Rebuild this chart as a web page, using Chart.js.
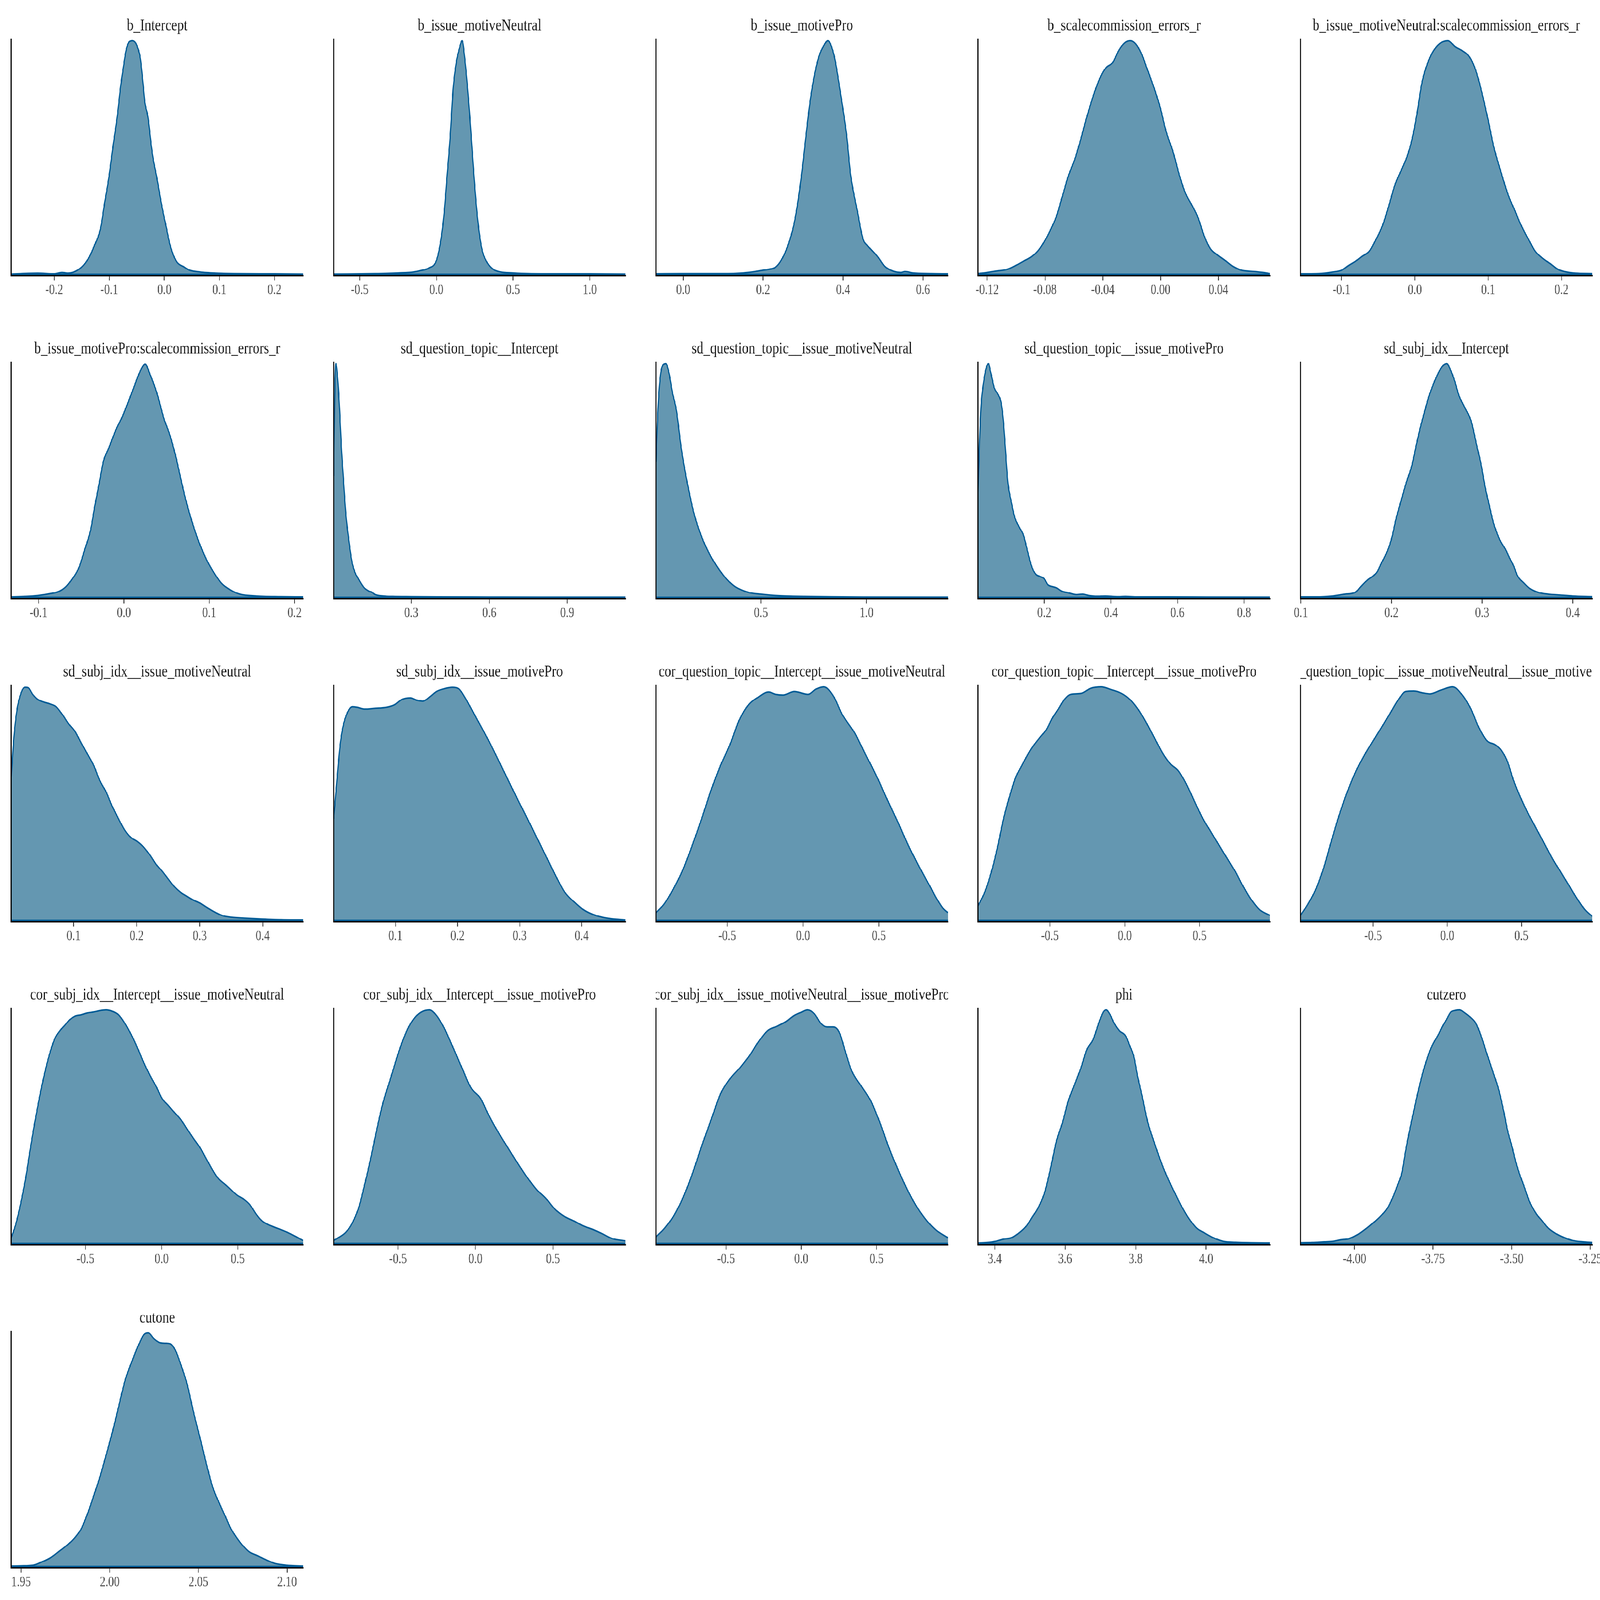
<!DOCTYPE html>
<html><head><meta charset="utf-8">
<script src="https://cdn.jsdelivr.net/npm/chart.js@4.4.1/dist/chart.umd.min.js"></script>
<style>
html,body{margin:0;padding:0;background:#fff;overflow:hidden;}
#wrap{position:absolute;left:0;top:0;width:5400px;height:4200px;background:#fff;overflow:hidden;transform-origin:0 0;}
#wrap canvas{position:absolute;}
</style></head><body><div id="wrap"></div>
<script>
// ---------- DATA ----------
const titles = ["b_Intercept","b_issue_motiveNeutral","b_issue_motivePro","b_scalecommission_errors_r","b_issue_motiveNeutral:scalecommission_errors_r",
"b_issue_motivePro:scalecommission_errors_r","sd_question_topic__Intercept","sd_question_topic__issue_motiveNeutral","sd_question_topic__issue_motivePro","sd_subj_idx__Intercept",
"sd_subj_idx__issue_motiveNeutral","sd_subj_idx__issue_motivePro","cor_question_topic__Intercept__issue_motiveNeutral","cor_question_topic__Intercept__issue_motivePro","cor_question_topic__issue_motiveNeutral__issue_motivePro",
"cor_subj_idx__Intercept__issue_motiveNeutral","cor_subj_idx__Intercept__issue_motivePro","cor_subj_idx__issue_motiveNeutral__issue_motivePro","phi","cutzero","cutone"];

const xMin = [-0.278,-0.67,-0.068,-0.1263,-0.156,-0.132,0.001,0.003,0.001,0.0995,0.001,0.0003,-0.97,-0.98,-0.99,-0.988,-0.915,-0.965,3.353,-4.172,1.9445];
const xMax = [0.252,1.233,0.662,0.0757,0.242,0.210,1.124,1.385,0.878,0.4216,0.464,0.4705,0.955,0.97,0.978,0.93,0.968,0.973,4.181,-3.2435,2.109];

const tickVals = [[-0.2,-0.1,0,0.1,0.2],[-0.5,0,0.5,1.0],[0,0.2,0.4,0.6],[-0.12,-0.08,-0.04,0,0.04],[-0.1,0,0.1,0.2],
[-0.1,0,0.1,0.2],[0.3,0.6,0.9],[0.5,1.0],[0.2,0.4,0.6,0.8],[0.1,0.2,0.3,0.4],
[0.1,0.2,0.3,0.4],[0.1,0.2,0.3,0.4],[-0.5,0,0.5],[-0.5,0,0.5],[-0.5,0,0.5],
[-0.5,0,0.5],[-0.5,0,0.5],[-0.5,0,0.5],[3.4,3.6,3.8,4.0],[-4.0,-3.75,-3.5,-3.25],[1.95,2.0,2.05,2.10]];
const tickDec = [1,1,1,2,1, 1,1,1,1,1, 1,1,1,1,1, 1,1,1,1,2,2];

const x01 = [-0.278,-0.23,-0.2,-0.186,-0.175,-0.155,-0.14,-0.128,-0.1156,-0.1086,-0.100,-0.093,-0.0855,-0.0796,-0.072,-0.0694,-0.064,-0.058,-0.052,-0.049,-0.0436,-0.038,-0.0355,-0.030,-0.0237,-0.0199,-0.0146,-0.0054,0.0037,0.010,0.016,0.023,0.035,0.046,0.065,0.095,0.126,0.2,0.252];
const y01 = [0.001,0.005,0.002,0.008,0.005,0.022,0.06,0.118,0.20,0.304,0.427,0.552,0.677,0.80,0.925,0.96,0.995,1.0,0.99,0.975,0.925,0.80,0.739,0.677,0.552,0.49,0.427,0.304,0.20,0.13,0.085,0.052,0.033,0.018,0.01,0.005,0.003,0.002,0.001];

const x02 = [-0.67,-0.4,-0.25,-0.15,-0.1,-0.05,0.0,0.03,0.05,0.07,0.09,0.11,0.13,0.15,0.168,0.185,0.2,0.22,0.24,0.26,0.28,0.30,0.33,0.37,0.42,0.5,0.6,0.8,1.0,1.233];
const y02 = [0.001,0.003,0.006,0.01,0.017,0.027,0.06,0.15,0.26,0.426,0.59,0.80,0.908,0.967,1.0,0.925,0.825,0.659,0.467,0.30,0.176,0.10,0.052,0.022,0.01,0.006,0.003,0.002,0.002,0.001];

const x03 = [-0.068,0.0,0.1,0.15,0.18,0.2,0.215,0.23,0.245,0.26,0.275,0.286,0.296,0.307,0.319,0.338,0.352,0.362,0.372,0.379,0.395,0.409,0.419,0.437,0.45,0.46,0.468,0.486,0.504,0.525,0.545,0.555,0.575,0.62,0.662];
const y03 = [0.002,0.003,0.003,0.006,0.012,0.018,0.022,0.03,0.06,0.115,0.20,0.30,0.426,0.592,0.76,0.925,0.98,1.0,0.97,0.925,0.76,0.592,0.426,0.26,0.15,0.125,0.11,0.077,0.035,0.014,0.008,0.012,0.006,0.003,0.002];

const x04 = [-0.1263,-0.12,-0.114,-0.106,-0.1,-0.095,-0.089,-0.085,-0.081,-0.076,-0.072,-0.068,-0.064,-0.059,-0.055,-0.051,-0.046,-0.042,-0.038,-0.033,-0.029,-0.025,-0.021,-0.017,-0.013,-0.009,-0.004,0.0,0.004,0.0086,0.013,0.017,0.022,0.026,0.030,0.0345,0.039,0.0446,0.050,0.056,0.065,0.072,0.0757];
const y04 = [0.003,0.008,0.014,0.022,0.039,0.056,0.077,0.10,0.135,0.193,0.25,0.334,0.418,0.50,0.584,0.675,0.775,0.84,0.883,0.908,0.958,0.99,1.0,0.985,0.942,0.875,0.79,0.709,0.609,0.526,0.426,0.351,0.293,0.243,0.168,0.11,0.085,0.06,0.035,0.018,0.012,0.007,0.003];

const x05 = [-0.156,-0.131,-0.112,-0.1,-0.09,-0.081,-0.072,-0.062,-0.053,-0.044,-0.034,-0.028,-0.019,-0.01,-0.003,0.003,0.009,0.015,0.024,0.034,0.045,0.055,0.065,0.074,0.083,0.091,0.099,0.108,0.117,0.127,0.136,0.145,0.155,0.164,0.173,0.186,0.195,0.204,0.219,0.242];
const y05 = [0.002,0.003,0.01,0.018,0.039,0.056,0.077,0.10,0.15,0.21,0.31,0.376,0.443,0.51,0.59,0.69,0.81,0.883,0.95,0.988,1.0,0.975,0.957,0.933,0.875,0.784,0.675,0.542,0.443,0.343,0.276,0.21,0.15,0.10,0.072,0.043,0.022,0.012,0.005,0.003];

const x06 = [-0.132,-0.116,-0.101,-0.087,-0.076,-0.068,-0.061,-0.053,-0.046,-0.039,-0.034,-0.029,-0.024,-0.017,-0.0095,-0.002,0.005,0.0124,0.0197,0.025,0.0307,0.038,0.047,0.054,0.06,0.066,0.072,0.080,0.089,0.0976,0.105,0.114,0.124,0.136,0.155,0.184,0.21];
const y06 = [0.002,0.004,0.008,0.016,0.026,0.046,0.077,0.125,0.204,0.29,0.393,0.488,0.583,0.646,0.717,0.773,0.836,0.907,0.974,0.998,0.954,0.883,0.765,0.694,0.615,0.52,0.425,0.322,0.227,0.156,0.109,0.062,0.034,0.014,0.006,0.003,0.002];

const x07 = [0.001,0.005,0.0096,0.017,0.024,0.031,0.0385,0.048,0.06,0.072,0.084,0.096,0.108,0.12,0.137,0.149,0.161,0.193,0.229,0.3,0.4,0.6,0.8,1.124];
const y07 = [0.52,0.85,1.0,0.93,0.80,0.64,0.51,0.36,0.24,0.15,0.105,0.08,0.058,0.04,0.027,0.022,0.012,0.006,0.004,0.003,0.002,0.0015,0.001,0.001];

const x08 = [0.003,0.012,0.024,0.036,0.05,0.065,0.08,0.1,0.121,0.145,0.183,0.219,0.263,0.322,0.352,0.38,0.44,0.5,0.589,0.65,0.707,0.8,0.885,1.0,1.385];
const y08 = [0.58,0.80,0.95,0.995,1.0,0.96,0.88,0.80,0.65,0.52,0.36,0.26,0.175,0.095,0.065,0.045,0.022,0.014,0.007,0.005,0.004,0.003,0.002,0.0015,0.001];

const x09 = [0.001,0.005,0.0102,0.0175,0.025,0.0322,0.0396,0.049,0.0616,0.07,0.0763,0.0825,0.091,0.1008,0.1106,0.125,0.1375,0.15,0.162,0.174,0.1865,0.199,0.211,0.223,0.2355,0.254,0.272,0.297,0.315,0.334,0.358,0.383,0.419,0.444,0.48,0.566,0.689,0.878];
const y09 = [0.45,0.65,0.82,0.92,0.98,1.0,0.96,0.90,0.867,0.836,0.765,0.65,0.488,0.41,0.346,0.30,0.267,0.196,0.133,0.10,0.09,0.081,0.054,0.047,0.042,0.026,0.02,0.012,0.014,0.008,0.005,0.006,0.003,0.004,0.002,0.002,0.0015,0.001];

const x10 = [0.0995,0.117,0.135,0.1485,0.16,0.166,0.173,0.18,0.184,0.189,0.196,0.2,0.2046,0.209,0.216,0.2226,0.227,0.2316,0.236,0.2405,0.2464,0.2518,0.2563,0.261,0.2652,0.27,0.2742,0.281,0.2877,0.2944,0.299,0.3034,0.308,0.3124,0.319,0.326,0.330,0.335,0.339,0.346,0.3528,0.3618,0.373,0.3865,0.4,0.4216];
const y10 = [0.002,0.002,0.006,0.014,0.022,0.046,0.073,0.093,0.109,0.148,0.204,0.251,0.33,0.393,0.488,0.567,0.646,0.725,0.788,0.852,0.915,0.962,0.99,1.0,0.974,0.923,0.867,0.812,0.757,0.646,0.567,0.472,0.393,0.322,0.251,0.204,0.172,0.133,0.093,0.062,0.038,0.022,0.014,0.01,0.006,0.003];

const x11 = [0.001,0.005,0.01,0.016,0.023,0.028,0.035,0.0426,0.0525,0.0624,0.072,0.082,0.092,0.102,0.112,0.122,0.132,0.1416,0.1515,0.161,0.171,0.181,0.191,0.201,0.211,0.221,0.231,0.241,0.2505,0.26,0.27,0.28,0.29,0.3,0.31,0.32,0.335,0.35,0.37,0.399,0.429,0.464];
const y11 = [0.614,0.777,0.90,0.97,0.998,0.996,0.968,0.947,0.935,0.927,0.915,0.882,0.842,0.81,0.76,0.712,0.663,0.598,0.55,0.49,0.436,0.387,0.355,0.338,0.314,0.28,0.24,0.209,0.176,0.144,0.12,0.103,0.087,0.075,0.058,0.042,0.022,0.014,0.01,0.006,0.003,0.002];

const x12 = [0.0003,0.0056,0.0104,0.015,0.0225,0.0305,0.0376,0.0507,0.0658,0.086,0.098,0.111,0.124,0.134,0.144,0.156,0.166,0.1785,0.1916,0.2017,0.2118,0.222,0.232,0.242,0.252,0.267,0.282,0.297,0.3125,0.3276,0.3427,0.358,0.373,0.388,0.403,0.418,0.433,0.448,0.4705];
const y12 = [0.436,0.598,0.744,0.825,0.89,0.915,0.913,0.905,0.908,0.913,0.923,0.947,0.953,0.943,0.939,0.959,0.98,0.992,0.998,0.992,0.955,0.907,0.858,0.81,0.76,0.68,0.598,0.517,0.436,0.355,0.274,0.192,0.12,0.079,0.046,0.026,0.014,0.007,0.002];

const x13 = [-0.97,-0.917,-0.855,-0.793,-0.731,-0.669,-0.607,-0.545,-0.483,-0.421,-0.36,-0.298,-0.227,-0.18,-0.132,-0.058,0.033,0.085,0.136,0.198,0.26,0.343,0.405,0.488,0.55,0.632,0.694,0.777,0.839,0.88,0.921,0.955];
const y13 = [0.034,0.07,0.136,0.217,0.322,0.436,0.558,0.663,0.752,0.858,0.923,0.955,0.978,0.968,0.965,0.98,0.968,0.99,1.0,0.963,0.88,0.80,0.72,0.614,0.525,0.412,0.322,0.217,0.144,0.095,0.054,0.034];

const x14 = [-0.98,-0.932,-0.891,-0.85,-0.81,-0.769,-0.728,-0.688,-0.647,-0.606,-0.565,-0.524,-0.484,-0.443,-0.402,-0.361,-0.293,-0.226,-0.158,-0.09,-0.022,0.033,0.087,0.141,0.196,0.25,0.304,0.359,0.413,0.467,0.522,0.576,0.63,0.685,0.739,0.793,0.848,0.902,0.97];
const y14 = [0.0625,0.127,0.209,0.314,0.436,0.533,0.614,0.663,0.712,0.752,0.785,0.817,0.866,0.906,0.947,0.968,0.972,0.994,1.0,0.988,0.972,0.947,0.906,0.85,0.785,0.72,0.671,0.64,0.582,0.509,0.436,0.379,0.322,0.265,0.209,0.144,0.087,0.046,0.022];

const x15 = [-0.99,-0.94,-0.885,-0.83,-0.775,-0.72,-0.665,-0.61,-0.555,-0.5,-0.445,-0.39,-0.335,-0.28,-0.225,-0.17,-0.115,-0.047,0.036,0.104,0.159,0.214,0.269,0.324,0.365,0.407,0.448,0.489,0.544,0.599,0.654,0.709,0.764,0.819,0.874,0.929,0.978];
const y15 = [0.022,0.07,0.136,0.233,0.355,0.469,0.566,0.647,0.712,0.769,0.825,0.882,0.94,0.98,0.982,0.975,0.97,0.985,1.0,0.963,0.906,0.825,0.769,0.752,0.728,0.679,0.598,0.534,0.46,0.395,0.33,0.265,0.209,0.152,0.095,0.046,0.018];

const x16 = [-0.988,-0.959,-0.93,-0.898,-0.865,-0.832,-0.8,-0.766,-0.734,-0.7,-0.668,-0.635,-0.602,-0.57,-0.529,-0.488,-0.447,-0.406,-0.365,-0.324,-0.283,-0.242,-0.201,-0.16,-0.119,-0.078,-0.037,0.004,0.045,0.086,0.127,0.168,0.209,0.25,0.291,0.332,0.373,0.414,0.455,0.496,0.537,0.578,0.619,0.66,0.701,0.762,0.824,0.885,0.93];
const y16 = [0.025,0.081,0.16,0.263,0.397,0.524,0.634,0.737,0.816,0.88,0.911,0.935,0.959,0.973,0.979,0.987,0.991,0.997,1.0,0.994,0.979,0.943,0.896,0.84,0.777,0.722,0.674,0.62,0.59,0.56,0.53,0.49,0.45,0.413,0.366,0.318,0.278,0.255,0.231,0.207,0.191,0.168,0.128,0.097,0.081,0.065,0.049,0.029,0.013];

const x17 = [-0.915,-0.875,-0.835,-0.794,-0.754,-0.714,-0.673,-0.633,-0.593,-0.552,-0.512,-0.472,-0.431,-0.391,-0.351,-0.298,-0.25,-0.2,-0.149,-0.089,-0.028,0.032,0.093,0.153,0.214,0.274,0.335,0.395,0.456,0.516,0.577,0.637,0.698,0.758,0.819,0.879,0.968];
const y17 = [0.013,0.029,0.049,0.089,0.152,0.255,0.373,0.50,0.611,0.698,0.785,0.864,0.927,0.967,0.99,1.0,0.975,0.92,0.846,0.755,0.666,0.622,0.54,0.47,0.405,0.342,0.282,0.231,0.192,0.145,0.115,0.096,0.075,0.06,0.042,0.022,0.011];

const x18 = [-0.965,-0.909,-0.846,-0.784,-0.722,-0.66,-0.598,-0.536,-0.473,-0.411,-0.349,-0.286,-0.224,-0.162,-0.1,-0.05,0.0,0.041,0.087,0.129,0.17,0.212,0.253,0.295,0.336,0.398,0.461,0.523,0.585,0.647,0.71,0.772,0.834,0.896,0.973];
const y18 = [0.029,0.065,0.12,0.199,0.302,0.421,0.532,0.642,0.706,0.75,0.80,0.862,0.911,0.93,0.951,0.975,0.99,1.0,0.983,0.943,0.927,0.927,0.903,0.816,0.737,0.674,0.611,0.516,0.405,0.31,0.223,0.152,0.097,0.057,0.025];

const x19 = [3.353,3.379,3.402,3.425,3.448,3.472,3.489,3.506,3.523,3.541,3.558,3.575,3.592,3.609,3.627,3.645,3.662,3.679,3.697,3.708,3.716,3.728,3.739,3.754,3.772,3.783,3.795,3.806,3.818,3.835,3.852,3.87,3.887,3.904,3.922,3.939,3.956,3.974,3.996,4.02,4.049,4.083,4.181];
const y19 = [0.002,0.004,0.009,0.019,0.025,0.049,0.073,0.112,0.152,0.215,0.318,0.437,0.516,0.611,0.682,0.753,0.832,0.872,0.951,0.99,1.0,0.979,0.943,0.911,0.888,0.848,0.80,0.714,0.634,0.516,0.437,0.358,0.294,0.239,0.184,0.136,0.097,0.065,0.045,0.025,0.009,0.005,0.002];

const x20 = [-4.172,-4.135,-4.096,-4.07,-4.044,-4.018,-3.992,-3.966,-3.94,-3.915,-3.895,-3.876,-3.863,-3.85,-3.837,-3.824,-3.811,-3.798,-3.785,-3.772,-3.759,-3.746,-3.733,-3.72,-3.707,-3.694,-3.679,-3.666,-3.649,-3.63,-3.614,-3.597,-3.578,-3.558,-3.541,-3.526,-3.513,-3.5,-3.487,-3.474,-3.461,-3.442,-3.422,-3.403,-3.383,-3.357,-3.332,-3.306,-3.273,-3.2435];
const y20 = [0.003,0.004,0.007,0.009,0.016,0.021,0.037,0.061,0.089,0.12,0.152,0.205,0.25,0.30,0.40,0.49,0.57,0.65,0.72,0.78,0.83,0.865,0.895,0.93,0.96,0.99,0.998,1.0,0.987,0.967,0.943,0.888,0.809,0.729,0.658,0.571,0.484,0.421,0.35,0.294,0.247,0.176,0.128,0.097,0.065,0.041,0.025,0.013,0.007,0.004];

const x21 = [1.9445,1.95,1.957,1.962,1.9665,1.971,1.976,1.9805,1.984,1.9876,1.991,1.9946,1.998,2.0016,2.0051,2.0086,2.0121,2.0156,2.0192,2.0217,2.025,2.0285,2.032,2.0344,2.0373,2.0402,2.0437,2.0472,2.0508,2.0543,2.0578,2.0613,2.0648,2.0683,2.0718,2.0753,2.0788,2.0835,2.0882,2.0929,2.0976,2.1022,2.109];
const y21 = [0.002,0.003,0.006,0.021,0.0375,0.0625,0.092,0.125,0.1625,0.229,0.304,0.3875,0.479,0.579,0.6875,0.796,0.871,0.9375,0.992,1.0,0.975,0.958,0.956,0.9525,0.921,0.8625,0.779,0.6625,0.554,0.446,0.346,0.279,0.221,0.1625,0.121,0.0875,0.0625,0.046,0.029,0.014,0.0075,0.004,0.002];

const X = [x01,x02,x03,x04,x05,x06,x07,x08,x09,x10,x11,x12,x13,x14,x15,x16,x17,x18,x19,x20,x21];
const Y = [y01,y02,y03,y04,y05,y06,y07,y08,y09,y10,y11,y12,y13,y14,y15,y16,y17,y18,y19,y20,y21];

// ---------- LAYOUT / STYLE ----------
const FILL = '#6497b1', LINE = '#005b96';
const COL0 = 38, COLP = 1087.75, ROW0 = 104, ROWP = 848, PW = 985, PH = 620;
const PADX = 70, PADTOP = 104, AXH = 80, PADB = 10;
const FONT = '"Liberation Serif", "Times New Roman", serif';

const wrap = document.getElementById('wrap');
// The design is laid out on a 5400x4200 page; fit it to whatever viewport the page gets.
const VW = window.innerWidth || 5400, VH = window.innerHeight || 4200;
const sx = VW / 5400, sy = VH / 4200;
if (Math.abs(sx - 1) > 0.001 || Math.abs(sy - 1) > 0.001) {
  wrap.style.transform = 'scale(' + sx + ',' + sy + ')';
}

const panelTitle = {
  id: 'panelTitle',
  afterDraw(chart, args, opts) {
    const {ctx, chartArea: a} = chart;
    ctx.save();
    ctx.beginPath();
    ctx.rect(a.left, 0, a.right - a.left, a.top);
    ctx.clip();
    ctx.fillStyle = '#1a1a1a';
    ctx.font = '45px ' + FONT;
    ctx.textAlign = 'center';
    ctx.textBaseline = 'alphabetic';
    ctx.fillText(opts.text, (a.left + a.right) / 2, a.top - 24);
    ctx.restore();
  }
};

titles.forEach((title, i) => {
  const r = Math.floor(i / 5), c = i % 5;
  const left = Math.round(COL0 + c * COLP), top = ROW0 + r * ROWP;
  const cv = document.createElement('canvas');
  const cw = PW + 2 * PADX, ch = PADTOP + PH + AXH + PADB;
  cv.width = cw; cv.height = ch;
  cv.style.width = cw + 'px'; cv.style.height = ch + 'px';
  cv.style.left = (left - PADX) + 'px'; cv.style.top = (top - PADTOP) + 'px';
  wrap.appendChild(cv);
  const xs = X[i], ys = Y[i];
  const n = Math.min(xs.length, ys.length);
  const pts = [];
  for (let k = 0; k < n; k++) pts.push({x: xs[k], y: ys[k]});
  const tv = tickVals[i], dec = tickDec[i];
  new Chart(cv, {
    type: 'line',
    data: {
      datasets: [
        {data: [{x: xMin[i], y: 0}, {x: xMax[i], y: 0}], borderColor: LINE, borderWidth: 4, pointRadius: 0, fill: false, tension: 0},
        {data: pts, borderColor: LINE, backgroundColor: FILL, borderWidth: 4, pointRadius: 0, fill: 'origin', cubicInterpolationMode: 'monotone'}
      ]
    },
    options: {
      responsive: false, animation: false, devicePixelRatio: 1, events: [],
      layout: {padding: {left: PADX, right: PADX, top: PADTOP, bottom: PADB}},
      plugins: {legend: {display: false}, tooltip: {enabled: false}, title: {display: false}, panelTitle: {text: title}},
      scales: {
        x: {
          type: 'linear', position: 'bottom', min: xMin[i], max: xMax[i],
          afterBuildTicks: s => { s.ticks = tv.map(v => ({value: v})); },
          afterFit: s => { s.height = AXH; s.paddingLeft = 0; s.paddingRight = 0; },
          border: {display: true, color: '#000000', width: 3.5, z: 1},
          grid: {display: true, drawOnChartArea: false, drawTicks: true, tickLength: 12, color: '#333333', lineWidth: 2.5},
          ticks: {autoSkip: false, maxRotation: 0, minRotation: 0, padding: 3, color: '#4d4d4d',
                  font: {family: FONT, size: 38}, callback: v => Number(v).toFixed(dec)}
        },
        y: {
          type: 'linear', position: 'left', min: -0.006, max: 1.005,
          afterFit: s => { s.width = 0; },
          border: {display: true, color: '#000000', width: 3.5, z: 1},
          grid: {display: false, drawTicks: false}, ticks: {display: false}
        }
      }
    },
    plugins: [panelTitle]
  });
});
</script>
</body></html>
